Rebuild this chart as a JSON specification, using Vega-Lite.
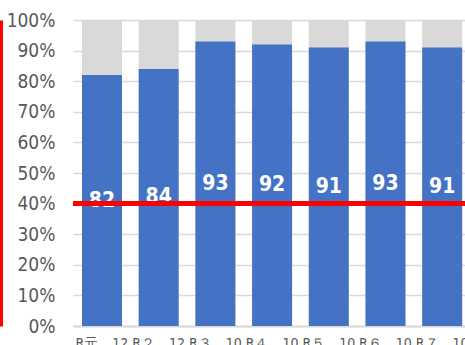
{
  "$schema": "https://vega.github.io/schema/vega-lite/v6.json",
  "width": 392,
  "height": 306,
  "autosize": {"type": "none"},
  "padding": {"left": 73, "top": 20, "right": 0, "bottom": 19},
  "background": "white",
  "config": {"view": {"stroke": null}},
  "data": {"values": [
    {"period": "R元．12", "rate": 82},
    {"period": "R２．12", "rate": 84},
    {"period": "R３．10", "rate": 93},
    {"period": "R４．10", "rate": 92},
    {"period": "R５．10", "rate": 91},
    {"period": "R６．10", "rate": 93},
    {"period": "R７．10", "rate": 91}
  ]},
  "resolve": {"scale": {"y": "independent"}, "axis": {"y": "independent"}},
  "layer": [
    {
      "mark": {"type": "bar", "color": "#d9d9d9"},
      "encoding": {
        "x": {
          "field": "period", "type": "nominal", "sort": null,
          "scale": {"paddingInner": 0.295, "paddingOuter": 0.1045, "align": 0.76},
          "axis": {"title": null, "labelAngle": 0, "labelFont": "DejaVu Sans Condensed", "labelFontSize": 14, "labelColor": "#595959", "ticks": false, "domainColor": "#d9d9d9", "domainWidth": 2, "labelPadding": 10, "labelOverlap": false, "grid": false}
        },
        "y": {"datum": 100, "type": "quantitative", "scale": {"domain": [0, 100], "nice": false},
          "axis": {"title": null, "values": [0,10,20,30,40,50,60,70,80,90,100], "labelExpr": "datum.value + '%'", "labelFont": "DejaVu Sans Condensed", "labelFontSize": 19, "labelColor": "#595959", "ticks": false, "domain": false, "labelPadding": 18, "labelOverlap": false, "grid": true, "gridColor": "#d9d9d9", "gridWidth": 1.5}}
      }
    },
    {
      "mark": {"type": "bar", "color": "#4472c4"},
      "encoding": {
        "x": {"field": "period", "type": "nominal", "sort": null},
        "y": {"field": "rate", "type": "quantitative", "scale": {"domain": [0, 100], "nice": false}, "axis": null}
      }
    },
    {
      "mark": {"type": "text", "color": "white", "font": "DejaVu Sans Condensed", "fontWeight": "bold", "fontSize": 21, "baseline": "middle"},
      "encoding": {
        "x": {"field": "period", "type": "nominal", "sort": null},
        "y": {"field": "rate", "type": "quantitative", "scale": {"domain": [0, 200], "nice": false}, "axis": null},
        "text": {"field": "rate", "type": "quantitative"}
      }
    },
    {
      "mark": {"type": "rule", "color": "#ff0000", "strokeWidth": 4},
      "encoding": {
        "y": {"datum": 40, "type": "quantitative", "scale": {"domain": [0, 100], "nice": false},
          "axis": {"orient": "left", "offset": 72, "title": null, "labels": false, "ticks": false, "grid": false, "domainColor": "#ff0000", "domainWidth": 3}}
      }
    }
  ]
}
